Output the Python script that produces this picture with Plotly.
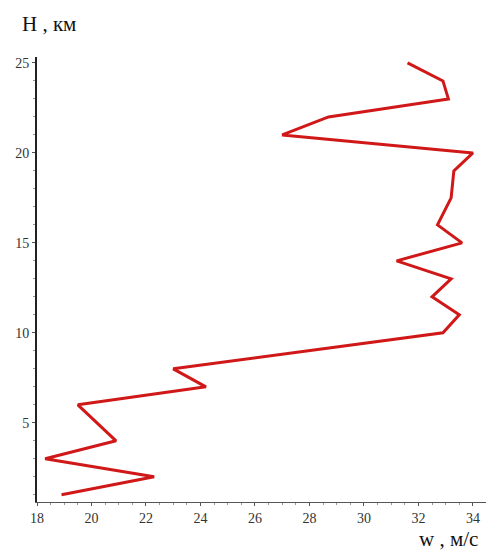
import plotly.graph_objects as go

H_km = [1, 2, 3, 4, 6, 7, 8, 10, 11, 12, 13, 14, 15, 16, 17.5, 19, 20, 21, 22, 23, 24, 25]
w_ms = [18.9, 22.3, 18.3, 20.9, 19.5, 24.2, 23.0, 32.9, 33.5, 32.5, 33.2, 31.2, 33.6, 32.7, 33.2, 33.3, 34.0, 27.0, 28.7, 33.1, 32.9, 31.6]

x_ticks = [18, 20, 22, 24, 26, 28, 30, 32, 34]
y_ticks = [5, 10, 15, 20, 25]

fig = go.Figure()
fig.add_trace(go.Scatter(x=w_ms, y=H_km, mode="lines",
                         line=dict(color="#d01818", width=3), showlegend=False))

fig.update_layout(
    width=486, height=554,
    margin=dict(l=37, r=0, t=57, b=52),
    paper_bgcolor="white", plot_bgcolor="white",
    font=dict(family="Liberation Serif", size=13, color="#222"),
    xaxis=dict(range=[18, 34.48], tickvals=x_ticks, showgrid=False, zeroline=False,
               showline=True, linecolor="#555", linewidth=1,
               ticks="outside", ticklen=3, tickcolor="#555",
               minor=dict(dtick=0.5, ticks="outside", ticklen=2, tickcolor="#999"),
               tickfont=dict(size=14, color="#333")),
    yaxis=dict(range=[0.6, 25.33], tickvals=y_ticks, showgrid=False, zeroline=False,
               showline=True, linecolor="#222", linewidth=2,
               ticks="outside", ticklen=3, tickcolor="#555",
               minor=dict(dtick=1, ticks="outside", ticklen=2, tickcolor="#999"),
               tickfont=dict(size=14, color="#333")),
    annotations=[
        dict(text="H , км", xref="paper", yref="paper", x=-17/449, y=1 + 33/445,
             xanchor="left", yanchor="middle", showarrow=False,
             font=dict(family="Liberation Serif", size=21, color="#111")),
        dict(text="w , м/с", xref="paper", yref="paper", x=443/449, y=-37/445,
             xanchor="right", yanchor="middle", showarrow=False,
             font=dict(family="Liberation Serif", size=21, color="#111")),
    ],
)

fig.write_html("out.html")
